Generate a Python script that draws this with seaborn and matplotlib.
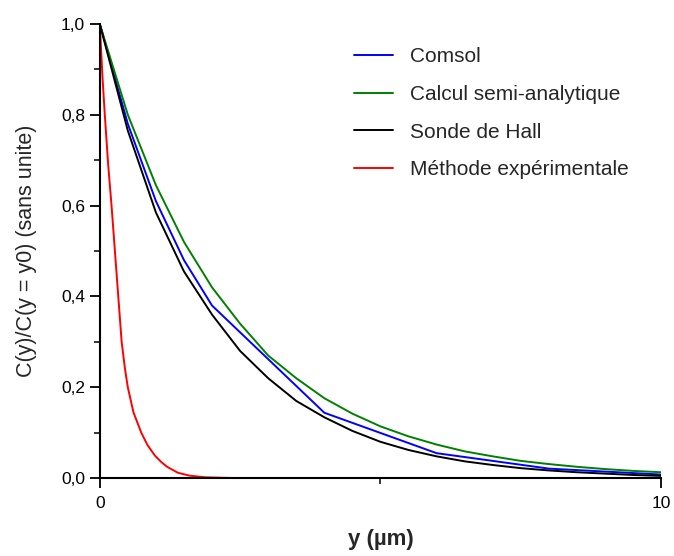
import numpy as np
import pandas as pd
import matplotlib
matplotlib.use("Agg")
import matplotlib.pyplot as plt
import seaborn as sns
from matplotlib.ticker import FuncFormatter, MultipleLocator

# valeurs
x_comsol = [0, 0.5, 1, 1.5, 2, 4, 6, 8, 10]
y_comsol = [1.0, 0.78, 0.61, 0.48, 0.38, 0.144, 0.055, 0.021, 0.008]

x_std = [0, 0.5, 1, 1.5, 2, 2.5, 3, 3.5, 4, 4.5, 5, 5.5, 6, 6.5, 7, 7.5, 8, 8.5, 9, 9.5, 10]
y_semi = [1.0, 0.80, 0.645, 0.52, 0.42, 0.34, 0.27, 0.22, 0.176, 0.142, 0.114,
          0.092, 0.074, 0.059, 0.048, 0.038, 0.031, 0.025, 0.020, 0.016, 0.013]
y_hall = [1.0, 0.765, 0.585, 0.455, 0.36, 0.28, 0.22, 0.17, 0.134, 0.104, 0.080,
          0.062, 0.048, 0.037, 0.029, 0.022, 0.017, 0.013, 0.010, 0.007, 0.005]

x_exp = [0, 0.05, 0.09, 0.15, 0.21, 0.27, 0.33, 0.39, 0.45, 0.5, 0.6, 0.74, 0.85,
         0.98, 1.1, 1.2, 1.39, 1.6, 1.87, 2.3, 3.0, 10]
y_exp = [1.0, 0.88, 0.8, 0.69, 0.6, 0.5, 0.4, 0.3, 0.24, 0.2, 0.145, 0.1, 0.073,
         0.05, 0.035, 0.025, 0.012, 0.0055, 0.002, 0.0005, 0.0, 0.0]

labels = ["Comsol", "Calcul semi-analytique", "Sonde de Hall", "Méthode expérimentale"]
colors = ["#0000ff", "#008000", "#000000", "#ff0000"]

df = pd.concat([
    pd.DataFrame({"y": x_comsol, "c": y_comsol, "serie": labels[0]}),
    pd.DataFrame({"y": x_std, "c": y_semi, "serie": labels[1]}),
    pd.DataFrame({"y": x_std, "c": y_hall, "serie": labels[2]}),
    pd.DataFrame({"y": x_exp, "c": y_exp, "serie": labels[3]}),
])

sns.set_style("ticks")
plt.rcParams["font.family"] = ["Liberation Sans", "DejaVu Sans"]

fig = plt.figure(figsize=(6.74, 5.56), dpi=100)
ax = fig.add_axes([0.148, 0.140, 0.833, 0.817])

sns.lineplot(data=df, x="y", y="c", hue="serie", palette=dict(zip(labels, colors)),
             hue_order=labels, sort=False, estimator=None, linewidth=1.4, ax=ax)

ax.set_xlim(0, 10)
ax.set_ylim(0, 1.0)
ax.set_xticks([0, 10])
ax.xaxis.set_minor_locator(MultipleLocator(5))
ax.yaxis.set_major_locator(MultipleLocator(0.2))
ax.yaxis.set_minor_locator(MultipleLocator(0.1))
ax.yaxis.set_major_formatter(FuncFormatter(lambda v, p: f"{v:.1f}".replace(".", ",")))
ax.tick_params(which="major", length=7, width=1.3, labelsize=12.5, direction="out", colors="#000000")
ax.tick_params(which="minor", length=4, width=1.3, direction="out")
ax.tick_params(axis="x", pad=6)
sns.despine(ax=ax)
for s in ["left", "bottom"]:
    ax.spines[s].set_linewidth(1.5)
    ax.spines[s].set_color("#000000")

ax.set_xlabel("y (µm)", fontsize=16, fontweight="bold", labelpad=13)
ax.set_ylabel("C(y)/C(y = y0) (sans unite)", fontsize=15.5, labelpad=17)

leg = ax.legend(loc="upper left", bbox_to_anchor=(0.42, 0.99), frameon=False,
                fontsize=15, handlelength=1.85, handletextpad=0.8, labelspacing=0.9)

fig.savefig("out.png", dpi=100)
